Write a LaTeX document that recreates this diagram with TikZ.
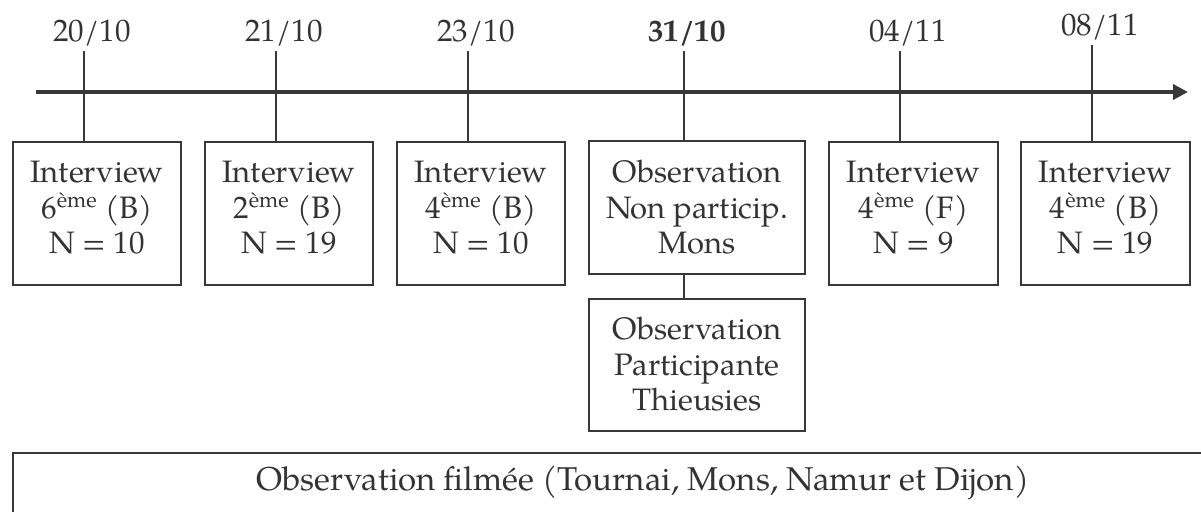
\documentclass[tikz,border=0pt]{standalone}
\usepackage{fontspec}
\setmainfont{TeX Gyre Pagella}
\usetikzlibrary{arrows.meta}
\definecolor{ink}{HTML}{333333}
\definecolor{lineink}{HTML}{383838}
\begin{document}
\begin{tikzpicture}[x=0.5pt,y=-0.5pt,
  mainfont/.style={font=\fontsize{15.5}{17.75}\selectfont},
  stepbox/.style={draw=lineink, line width=1pt, inner sep=0pt, anchor=north west},
  boxtext/.style={mainfont, anchor=north, align=center, inner sep=0pt, text=ink},
  datelbl/.style={mainfont, anchor=base, inner sep=0pt, text=ink},
  tickline/.style={draw=lineink, line width=0.9pt},
  axisline/.style={draw=lineink, line width=1.9pt, -{Triangle[length=7.5pt,width=7.5pt]}}]
\useasboundingbox (0,0) rectangle (1201,511);
\clip (0,0) rectangle (1201,511);

% axis
\coordinate (a0) at (36,92);
\coordinate (a1) at (1188,92);

% boxes
\node[stepbox, minimum width=84pt, minimum height=71.5pt] (b1) at (12,141) {};
\node[stepbox, minimum width=84pt, minimum height=71.5pt] (b2) at (204,141) {};
\node[stepbox, minimum width=84pt, minimum height=71.5pt] (b3) at (396,141) {};
\node[stepbox, minimum width=108pt, minimum height=66.5pt] (b4) at (588,140) {};
\node[stepbox, minimum width=108pt, minimum height=66pt] (b5) at (588,298) {};
\node[stepbox, minimum width=84.5pt, minimum height=71.5pt] (b6) at (828,141) {};
\node[stepbox, minimum width=84.5pt, minimum height=71.5pt] (b7) at (1020,141) {};
\node[stepbox, minimum width=650pt, minimum height=80pt] (fb) at (12,452) {};

% box texts
\node[boxtext] (x1) at ([yshift=-10pt]b1.north) {Interview\\6\textsuperscript{ème} (B)\\N = 10};
\node[boxtext] (x2) at ([yshift=-10pt]b2.north) {Interview\\2\textsuperscript{ème} (B)\\N = 19};
\node[boxtext] (x3) at ([yshift=-10pt]b3.north) {Interview\\4\textsuperscript{ème} (B)\\N = 10};
\node[boxtext] (x4) at ([yshift=-10pt]b4.north) {Observation\\Non particip.\\Mons};
\node[boxtext] (x5) at ([yshift=-9.5pt]b5.north) {Observation\\Participante\\Thieusies};
\node[boxtext] (x6) at ([yshift=-10pt]b6.north) {Interview\\4\textsuperscript{ème} (F)\\N = 9};
\node[boxtext] (x7) at ([yshift=-10pt]b7.north) {Interview\\4\textsuperscript{ème} (B)\\N = 19};
\node[font=\fontsize{16.5}{18}\selectfont, anchor=base west, inner sep=0pt, text=ink] (ft) at (256,490) {Observation filmée (Tournai, Mons, Namur et Dijon)};

% dates
\node[datelbl] (d1) at (92,41) {20/10};
\node[datelbl] (d2) at (284,41) {21/10};
\node[datelbl] (d3) at (476,41) {23/10};
\node[datelbl, font=\fontsize{15.5}{17.75}\selectfont\bfseries] (d4) at (687,41) {31/10};
\node[datelbl] (d5) at (908,41) {04/11};
\node[datelbl] (d6) at (1100,35) {08/11};

% ticks
\coordinate (k1) at (84,51);
\coordinate (k2) at (276,51);
\coordinate (k3) at (468,51);
\coordinate (k4) at (684,51);
\coordinate (k5) at (900,51);
\coordinate (k6) at (1092,45);
\draw[tickline] (k1) -- (k1 |- b1.north);
\draw[tickline] (k2) -- (k2 |- b2.north);
\draw[tickline] (k3) -- (k3 |- b3.north);
\draw[tickline] (k4) -- (k4 |- b4.north);
\draw[tickline] (k5) -- (k5 |- b6.north);
\draw[tickline] (k6) -- (k6 |- b7.north);
\draw[tickline] (k4 |- b4.south) -- (k4 |- b5.north);

\draw[axisline] (a0) -- (a1);
\end{tikzpicture}
\end{document}
